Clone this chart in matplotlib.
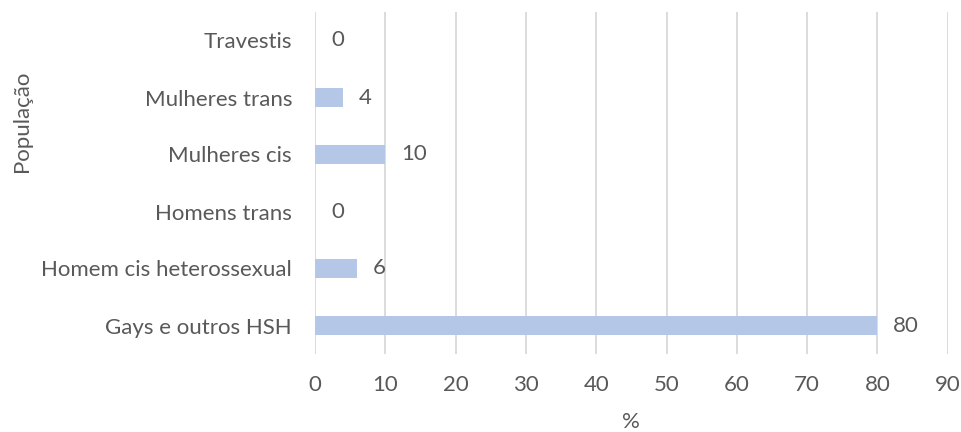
import matplotlib
matplotlib.use("Agg")
import matplotlib.pyplot as plt

categories = ["Gays e outros HSH", "Homem cis heterossexual", "Homens trans",
              "Mulheres cis", "Mulheres trans", "Travestis"]
values = [80, 6, 0, 10, 4, 0]
xticks = [0, 10, 20, 30, 40, 50, 60, 70, 80, 90]

plt.rcParams['font.family'] = ['Lato', 'DejaVu Sans']
txt = '#595959'
fs = 16

fig = plt.figure(figsize=(9.62, 4.32), dpi=100)
ax = fig.add_axes([315/962, 1-354/432, (947.7-315)/962, (354-12)/432])
ypos = list(range(len(categories)))
ax.barh(ypos, values, height=0.35, color='#B4C7E7', zorder=3)
ax.set_xlim(0, 90)
ax.set_ylim(-0.5, len(categories)-0.5)
ax.set_xticks(xticks)
ax.set_xticklabels([str(t) for t in xticks])
ax.set_yticks(ypos)
ax.set_yticklabels(categories)
ax.tick_params(axis='both', length=0, labelsize=fs, labelcolor=txt)
ax.tick_params(axis='y', pad=16.5)
ax.tick_params(axis='x', pad=15)
ax.grid(axis='x', color='#D9D9D9', linewidth=1.3, zorder=0)
for s in ax.spines.values():
    s.set_visible(False)
for y, v in zip(ypos, values):
    ax.annotate(str(v), (v, y), xytext=(11.5, 0), textcoords='offset points',
                ha='left', va='center', fontsize=fs, color=txt)
fig.text(631/962, 1-422/432, '%', ha='center', va='center', fontsize=fs, color=txt)
fig.text(22/962, 1-121/432, 'População', rotation=90, ha='center', va='center',
         fontsize=fs, color=txt)
fig.savefig('out.png', dpi=100)
